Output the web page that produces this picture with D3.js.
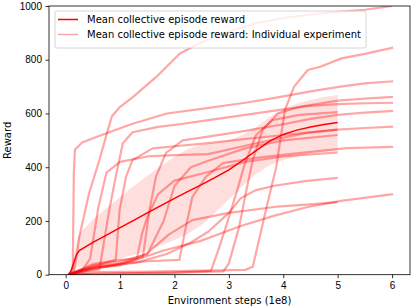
<!DOCTYPE html>
<html lang="en">
<head>
<meta charset="utf-8">
<title>Mean collective episode reward</title>
<script src="https://cdn.jsdelivr.net/npm/d3@7"></script>
<style>
  body { margin: 0; background: #fff; }
  svg { font-family: "DejaVu Sans", sans-serif; }
  .axis text { font-size: 10px; fill: #000; }
  .axis path, .axis line { stroke: #000; stroke-width: 0.8; }
</style>
</head>
<body>
<svg width="416" height="308"></svg>
<script>
// mean curve + std band (x in 1e8 steps)
var meanSteps  = [0.05, 0.1, 0.15, 0.2, 0.25, 0.3, 0.5, 0.75, 1, 1.25, 1.5, 1.75, 2, 2.25, 2.5, 2.75, 3, 3.25, 3.5, 3.75, 4, 4.25, 4.5, 4.75, 5];
var meanReward = [0, 15, 45, 75, 90, 96, 120, 147, 175, 202, 230, 257, 284, 310, 335, 362, 390, 425, 462, 497, 522, 538, 550, 559, 566];
var stdReward  = [0, 15, 30, 45, 60, 68, 85, 100, 115, 128, 138, 148, 155, 158, 150, 130, 110, 95, 88, 90, 95, 98, 100, 102, 103];

// individual experiments, [step, reward]
var runs = [
  [[0.05,0],[0.15,10],[0.19,55],[0.25,141],[0.43,303],[0.62,427],[0.74,514],[0.85,590],[1.0,625],[1.24,662],[1.67,737],[2.1,823],[2.47,862],[3.0,905],[3.5,936],[4.0,955],[4.5,968],[5.0,978],[5.5,986],[6.0,1000]],
  [[0.1,0],[0.13,25],[0.15,380],[0.17,465],[0.3,492],[0.6,515],[1.2,560],[1.86,600],[2.6,620],[3.3,640],[3.9,660],[4.5,682],[5.05,700],[5.5,712],[6.02,720]],
  [[0.05,0],[0.5,10],[1.5,12],[2.5,15],[3.3,18],[3.44,30],[3.68,240],[3.87,400],[4.03,613],[4.2,700],[4.45,762],[4.68,774],[5.07,805],[5.5,822],[6.02,845]],
  [[0.05,0],[1,5],[2,8],[2.9,12],[3.0,42],[3.19,179],[3.31,303],[3.44,427],[3.62,539],[3.9,600],[4.3,625],[5,648],[5.5,655],[6.02,662]],
  [[0.05,0],[0.4,15],[0.62,20],[0.8,240],[0.92,365],[1.05,489],[1.23,530],[1.7,550],[2.1,560],[2.62,575],[3.3,595],[4,615],[4.5,628],[5,635],[5.5,638],[6.02,640]],
  [[0.05,0],[0.5,25],[1.0,35],[1.42,67],[1.54,240],[1.66,365],[1.84,452],[2.15,500],[2.62,514],[3.3,535],[4,560],[4.5,580],[5,595],[5.5,603],[6.02,610]],
  [[0.05,0],[0.5,30],[0.92,55],[0.99,240],[1.11,365],[1.23,427],[1.6,470],[2.1,480],[2.62,490],[3.3,505],[4,520],[4.5,530],[5,540],[5.5,546],[6.02,551]],
  [[0.05,0],[0.5,30],[1.0,40],[1.5,50],[2.09,55],[2.21,179],[2.33,290],[2.58,365],[2.89,415],[3.5,435],[3.94,445],[4.55,458],[5.17,471],[6.02,476]],
  [[0.05,0],[0.3,15],[0.45,60],[0.6,250],[0.75,380],[1.0,420],[1.5,440],[2.0,445],[2.62,449],[3.3,480],[4,510],[4.5,530],[5.0,540]],
  [[0.05,0],[0.3,20],[0.8,35],[1.24,52],[1.8,90],[2.47,125],[3.22,181],[3.84,220],[4.45,252],[5.06,275],[6.02,300]],
  [[0.05,0],[0.3,15],[0.63,28],[1.3,45],[1.86,77],[2.3,120],[2.62,160],[3.0,230],[3.22,285],[3.5,315],[3.84,331],[4.4,348],[5.0,360]],
  [[0.05,0],[0.5,40],[1.0,55],[1.31,60],[1.4,150],[1.5,215],[1.7,300],[2.0,350],[2.62,382],[3.3,420],[4,440],[5,455]],
  [[0.05,0],[0.5,35],[1.0,50],[1.5,75],[1.8,200],[2.0,330],[2.3,400],[2.62,424],[3.3,470],[4,500],[5,520]],
  [[0.05,0],[1,5],[2,8],[2.67,14],[2.82,100],[2.98,200],[3.17,326],[3.29,411],[3.5,520],[3.8,575],[4.3,595],[5,605]],
  [[0.05,0],[0.5,20],[1.0,40],[1.5,80],[1.9,150],[2.33,203],[3.0,230],[3.87,253],[4.5,262],[5,270]]
];

var xTicks = [0, 1, 2, 3, 4, 5, 6];
var yTicks = [0, 200, 400, 600, 800, 1000];
var legendLabels = ["Mean collective episode reward", "Mean collective episode reward: Individual experiment"];

var svg = d3.select("svg");
var mLeft = 49, mRight = 410, mTop = 6, mBottom = 274.7;

var x = d3.scaleLinear().domain([-0.307, 6.33]).range([mLeft, mRight]);
var y = d3.scaleLinear().domain([0, 1000]).range([mBottom, mTop]);

svg.append("clipPath").attr("id", "clip")
  .append("rect").attr("x", mLeft).attr("y", mTop).attr("width", mRight - mLeft).attr("height", mBottom - mTop);

var plot = svg.append("g").attr("clip-path", "url(#clip)");

var line = d3.line().x(function(d) { return x(d[0]); }).y(function(d) { return y(d[1]); });

plot.selectAll(".run")
  .data(runs)
  .enter().append("path")
    .attr("class", "run")
    .attr("d", line)
    .attr("fill", "none")
    .attr("stroke", "rgb(255,0,0)")
    .attr("stroke-opacity", 0.35)
    .attr("stroke-width", 2.2)
    .attr("stroke-linejoin", "round");

var band = d3.area()
  .x(function(d, i) { return x(meanSteps[i]); })
  .y0(function(d, i) { return y(meanReward[i] - stdReward[i]); })
  .y1(function(d, i) { return y(meanReward[i] + stdReward[i]); });

plot.append("path")
  .datum(meanReward)
  .attr("d", band)
  .attr("fill", "rgb(255,0,0)")
  .attr("fill-opacity", 0.13);

plot.append("path")
  .datum(meanReward.map(function(v, i) { return [meanSteps[i], v]; }))
  .attr("d", line)
  .attr("fill", "none")
  .attr("stroke", "red")
  .attr("stroke-width", 1.5);

// axes
svg.append("g").attr("class", "axis")
  .attr("transform", "translate(0," + mBottom + ")")
  .call(d3.axisBottom(x).tickValues(xTicks).tickSize(3.5).tickPadding(3.5).tickFormat(d3.format("d")))
  .select(".domain").remove();
svg.append("g").attr("class", "axis")
  .attr("transform", "translate(" + mLeft + ",0)")
  .call(d3.axisLeft(y).tickValues(yTicks).tickSize(3.5).tickPadding(3.5).tickFormat(d3.format("d")))
  .select(".domain").remove();

svg.append("rect")
  .attr("x", mLeft).attr("y", mTop).attr("width", mRight - mLeft).attr("height", mBottom - mTop)
  .attr("fill", "none").attr("stroke", "#000").attr("stroke-width", 0.8);

svg.append("text")
  .attr("x", (mLeft + mRight) / 2).attr("y", 304)
  .attr("text-anchor", "middle").attr("font-size", 10)
  .text("Environment steps (1e8)");
svg.append("text")
  .attr("transform", "translate(11," + (mTop + mBottom) / 2 + ") rotate(-90)")
  .attr("text-anchor", "middle").attr("font-size", 10)
  .text("Reward");

// legend
var lg = svg.append("g");
lg.append("rect")
  .attr("x", 55).attr("y", 11).attr("width", 311).attr("height", 37).attr("rx", 2)
  .attr("fill", "#fff").attr("fill-opacity", 0.8)
  .attr("stroke", "#ccc").attr("stroke-width", 0.8);
var items = lg.selectAll(".item").data(legendLabels).enter().append("g")
  .attr("transform", function(d, i) { return "translate(0," + (19.5 + i * 15) + ")"; });
items.append("line")
  .attr("x1", 58).attr("x2", 78)
  .attr("stroke", "red").attr("stroke-width", 1.5)
  .attr("stroke-opacity", function(d, i) { return i ? 0.35 : 1; });
items.append("text")
  .attr("x", 87).attr("dy", "0.35em").attr("font-size", 10)
  .text(function(d) { return d; });
</script>
</body>
</html>
